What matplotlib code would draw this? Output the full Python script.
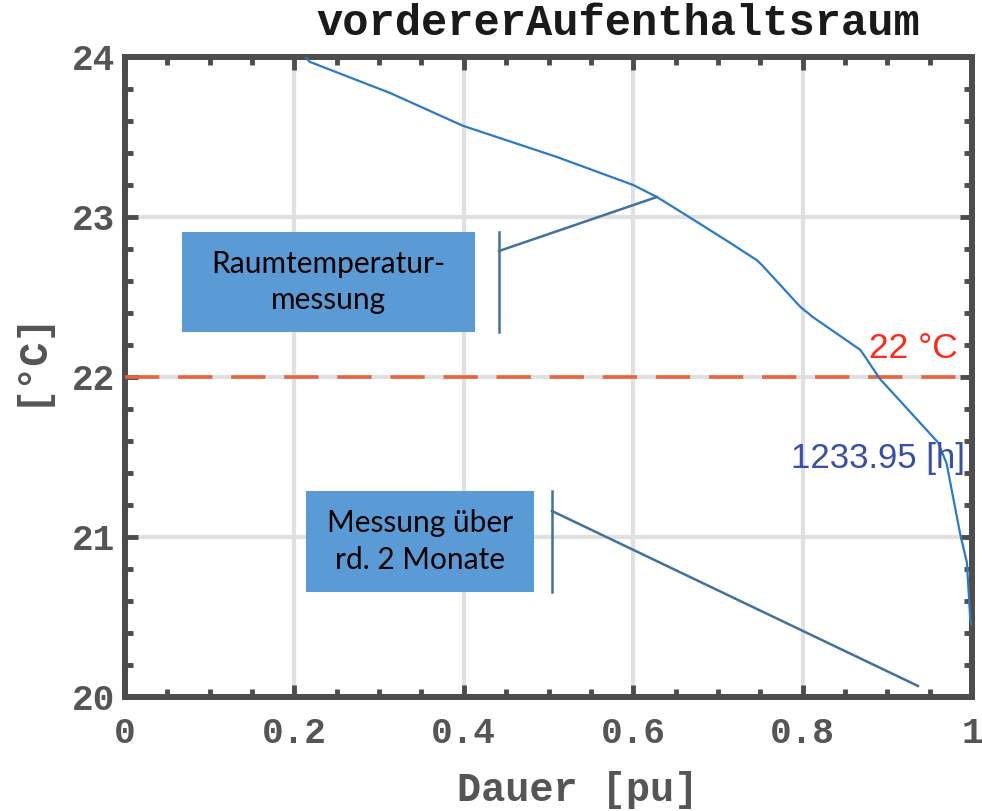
import matplotlib
matplotlib.use("Agg")
import matplotlib.pyplot as plt
from matplotlib.patches import Rectangle
from matplotlib.ticker import MultipleLocator

# duration curve
dauer = [0.210, 0.218, 0.313, 0.399, 0.510, 0.600, 0.628, 0.663, 0.714,
         0.746, 0.752, 0.797, 0.812, 0.868, 0.874, 0.891, 0.954, 0.960,
         0.970, 0.986, 0.994, 0.998, 1.000]
temp = [24.02, 23.97, 23.775, 23.57, 23.375, 23.20, 23.125, 23.01, 22.84,
        22.73, 22.70, 22.44, 22.375, 22.17, 22.125, 21.99, 21.625, 21.59,
        21.46, 21.02, 20.84, 20.48, 20.45]

limit_temp = 22.0
hours_label = "1233.95 [h]"
title = "vordererAufenthaltsraum"

# callout boxes: (x0, x1, y0, y1), text, (stem x, stem y), (tip x, tip y)
box1 = (0.0673, 0.4132, 22.281, 22.906)
box1_text = "Raumtemperatur-\nmessung"
box1_stem = (0.4416, 22.7875)
box1_tip = (0.628, 23.125)
box2 = (0.2137, 0.4829, 20.656, 21.2875)
box2_text = "Messung über\nrd. 2 Monate"
box2_stem = (0.5041, 21.1625)
box2_tip = (0.9362, 20.069)

MONO = "Liberation Mono"
AX_GRAY = "#4d4d4d"
BOX_BLUE = "#5b9bd5"
CALLOUT = "#41719c"

fig = plt.figure(figsize=(9.82, 8.11), dpi=100)
ax = fig.add_axes([125 / 982, 1 - 697 / 811, 847 / 982, 640 / 811])

ax.set_xlim(0, 1)
ax.set_ylim(20, 24)
ax.xaxis.set_major_locator(MultipleLocator(0.2))
ax.xaxis.set_minor_locator(MultipleLocator(0.05))
ax.yaxis.set_major_locator(MultipleLocator(1))
ax.yaxis.set_minor_locator(MultipleLocator(0.2))
ax.set_xticks([0, 0.2, 0.4, 0.6, 0.8, 1.0])
ax.set_xticklabels(["0", "0.2", "0.4", "0.6", "0.8", "1"])
ax.set_yticks([20, 21, 22, 23, 24])
ax.set_yticklabels(["20", "21", "22", "23", "24"])

ax.grid(True, which="major", color="#e0e0e0", lw=3, zorder=0)
ax.set_axisbelow(True)

for sp in ax.spines.values():
    sp.set_linewidth(4.3)
    sp.set_color(AX_GRAY)

ax.tick_params(which="both", direction="in", top=True, right=True,
               color=AX_GRAY, width=3.5)
ax.tick_params(which="major", length=9)
ax.tick_params(which="minor", length=6)
ax.tick_params(axis="x", which="major", pad=14)
ax.tick_params(axis="y", which="major", pad=7)
for lab in ax.get_xticklabels() + ax.get_yticklabels():
    lab.set_fontfamily(MONO)
    lab.set_fontsize(26)
    lab.set_fontweight("bold")
    lab.set_color("#555555")

# limit line and curve
ax.axhline(limit_temp, color="#e8643c", lw=2.6, ls=(0, (9.5, 5.2)), zorder=3)
ax.plot(dauer, temp, color="#2a7bc6", lw=1.6, zorder=4, clip_on=True)

ax.text(0.9835, 22.12, "22 °C", color="#ff2a1a", fontsize=25.5,
        family="Liberation Sans", ha="right", va="baseline", zorder=5)
ax.text(0.9917, 21.43, hours_label, color="#3a4fa8", fontsize=25,
        family="Liberation Sans", ha="right", va="baseline", zorder=5)

# callout boxes
for (x0, x1, y0, y1), txt, stem, tip in [
        (box1, box1_text, box1_stem, box1_tip),
        (box2, box2_text, box2_stem, box2_tip)]:
    ax.add_patch(Rectangle((x0, y0), x1 - x0, y1 - y0, facecolor=BOX_BLUE,
                           edgecolor="none", zorder=6))
    ax.text((x0 + x1) / 2, (y0 + y1) / 2, txt, ha="center", va="center",
            fontsize=21.5, family="Lato", color="black", linespacing=1.38,
            zorder=7)
    ax.plot([stem[0], stem[0]], [y0, y1], color=CALLOUT, lw=1.8, zorder=6)
    ax.plot([stem[0], tip[0]], [stem[1], tip[1]], color=CALLOUT, lw=1.8,
            zorder=6)

fig.text(618 / 982, 1 - 35 / 811, title, family=MONO, fontweight="bold",
         fontsize=31.5, ha="center", va="baseline", color="#1a1a1a")
fig.text(578 / 982, 1 - 790 / 811, "Dauer [pu]", family=MONO,
         fontweight="bold", fontsize=29, ha="center", va="center",
         color="#555555")
fig.text(30 / 982, 1 - 358 / 811, "[°C]", family=MONO, fontweight="bold",
         fontsize=29, ha="center", va="center", rotation=90,
         color="#555555")

fig.savefig("out.png", dpi=100)
